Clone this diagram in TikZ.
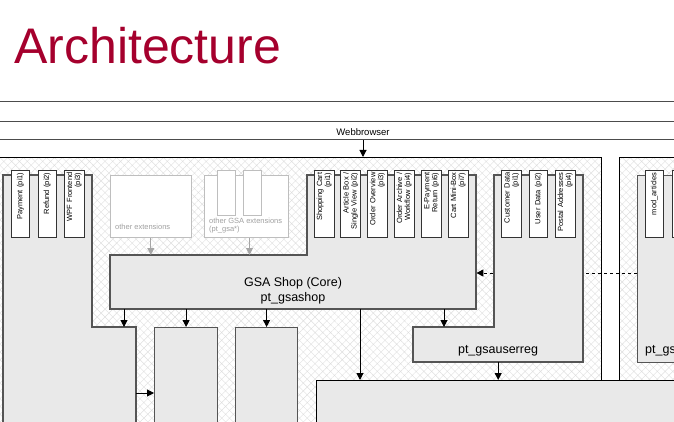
\documentclass[tikz,border=0pt]{standalone}
\usepackage{fontspec}
\setmainfont{Liberation Sans}
\usetikzlibrary{arrows.meta,patterns.meta}
\definecolor{titlered}{RGB}{165,0,45}
\definecolor{compfill}{RGB}{233,233,233}
\definecolor{compline}{RGB}{85,85,85}
\definecolor{extline}{RGB}{190,190,190}
\definecolor{exttext}{RGB}{160,160,160}
\definecolor{hatchgray}{RGB}{222,222,222}
\begin{document}
\begin{tikzpicture}[x=1pt, y=-1pt,
    band/.style={draw=black!70, line width=1pt},
    container/.style={rectangle, draw=black, line width=0.8pt, pattern={Hatch[angle=45,distance=5.5pt,line width=0.4pt]}, pattern color=hatchgray, anchor=north west, inner sep=0pt},
    comp/.style={draw=compline, line width=1.2pt, fill=compfill},
    compbox/.style={rectangle, comp, anchor=north west, inner sep=0pt},
    body/.style={rectangle, anchor=north west, inner sep=0pt},
    comptext/.style={font=\fontsize{12.5}{15}\selectfont, align=center, inner sep=0pt},
    tab/.style={rectangle, draw=black!80, line width=0.9pt, fill=white, rotate=90, minimum width=67pt, minimum height=18pt, text width=62pt, inner sep=2.5pt, align=right, font=\fontsize{7.5}{8}\selectfont},
    ext/.style={rectangle, draw=extline, line width=1pt, fill=white, anchor=north west, inner sep=0pt},
    exttab/.style={ext, minimum width=18pt, minimum height=45pt},
    exttext/.style={text=exttext, font=\fontsize{7.5}{8}\selectfont, align=left, inner sep=0pt},
    conn/.style={-{Triangle[length=7pt,width=7pt]}, line width=1pt},
    extconn/.style={conn, draw=black!35}
]
\useasboundingbox (0,0) rectangle (674,422);
\clip (0,0) rectangle (674,422);

% title and browser band
\node[anchor=base west, inner sep=0pt, text=titlered, font=\fontsize{50}{60}\selectfont] (title) at (14,64) {Architecture};
\draw[band] (-5,102) -- (680,102);
\draw[band] (-5,122) -- (680,122);
\draw[band] (-5,140) -- (680,140);
\node[anchor=base, inner sep=0pt, font=\fontsize{9.5}{11}\selectfont] (web) at (363,136) {Webbrowser};
\coordinate (webin) at (363,140);

% containers
\node[container, minimum width=603pt, minimum height=290pt] (shopcont) at (-2,157) {};
\node[container, minimum width=80pt, minimum height=290pt] (artcont) at (619,157) {};

% invisible bodies for connectors
\node[body, minimum width=366pt, minimum height=54pt] (shop) at (110,255) {};
\node[body, minimum width=170pt, minimum height=35pt] (reg) at (413,327) {};
\coordinate (artout) at (636.7,273);
\draw[conn, dashed] (artout) -- (artout -| shop.east);

% payment component
\draw[comp] (3,175) -- (92,175) -- (92,327) -- (136,327) -- (136,440) -- (3,440) -- cycle;
\coordinate (payin) at (124,327);
\coordinate (payout) at (136,393);
\node[tab] (pay)    at (20.5,203.5) {Payment (pi1)};
\node[tab] (refund) at (47.2,203.5) {Refund (pi2)};
\node[tab] (wpf)    at (74.2,203.5) {WPF Frontend\\(pi3)};

% other extensions
\node[ext, minimum width=80.7pt, minimum height=62pt] (ext1) at (110,175) {};
\node[exttext, anchor=base west] (ext1lbl) at (115,229.5) {other extensions};
\node[ext, minimum width=84pt, minimum height=62pt] (ext2) at (204,175) {};
\node[exttab] (ext2a) at (216.7,170) {};
\node[exttab] (ext2b) at (243.3,170) {};
\node[exttext, anchor=north west] (ext2lbl) at (209,217.5) {other GSA extensions\\(pt\_gsa*)};

% shop core
\draw[comp] (110,255) -- (307,255) -- (307,175) -- (476,175) -- (476,309) -- (110,309) -- cycle;
\node[comptext] (shoplbl) at (293,291) {GSA Shop (Core)\\pt\_gsashop};
\node[tab] (cart)    at (324.2,203.5) {Shopping Cart\\(pi1)};
\node[tab] (artbox)  at (350.8,203.5) {Article Box /\\Single View (pi2)};
\node[tab] (overv)   at (377.5,203.5) {Order Overview\\(pi3)};
\node[tab] (archive) at (404.2,203.5) {Order Archive /\\Workflow (pi4)};
\node[tab] (epay)    at (431.5,203.5) {E-Payment\\Return (pi6)};
\node[tab] (minibox) at (458.2,203.5) {Cart Mini-Box\\(pi7)};

% user registration
\draw[comp] (494,175) -- (583,175) -- (583,362) -- (413,362) -- (413,327) -- (494,327) -- cycle;
\node[comptext, anchor=base] (reglbl) at (498,353.5) {pt\_gsauserreg};
\coordinate (regin) at (444,327);
\node[tab] (custdata) at (511.8,203.5) {Customer Data\\(pi1)};
\node[tab] (userdata) at (538.5,203.5) {User Data (pi2)};
\node[tab] (postal)   at (565.2,203.5) {Postal Addresses\\(pi4)};

% articles component
\node[compbox, minimum width=60pt, minimum height=187pt] (art) at (636.7,175) {};
\node[comptext, anchor=base west] (artlbl) at (645,353.5) {pt\_gs};
\node[tab] (modart) at (654.5,203.5) {mod\_articles};
\node[tab] (modnext) at (681,203.5) {};

% lower boxes
\node[compbox, minimum width=63pt, minimum height=120pt] (boxA) at (154,327) {};
\node[compbox, minimum width=62pt, minimum height=120pt] (boxB) at (235,327) {};
\node[compbox, draw=black, line width=1pt, minimum width=370pt, minimum height=60pt] (core) at (316,380) {};
\coordinate (corein) at (360,380);

% connectors
\draw[conn] (webin) -- (webin |- shopcont.north);
\draw[extconn] (ext1.south) -- (ext1.south |- shop.north);
\draw[extconn] ([xshift=3pt]ext2.south) -- ([xshift=3pt]ext2.south |- shop.north);
\draw[conn] (shop.south -| payin) -- (payin);
\draw[conn] (shop.south -| boxA.north) -- (boxA.north);
\draw[conn] (shop.south -| boxB.north) -- (boxB.north);
\draw[conn] (shop.south -| corein) -- (corein);
\draw[conn] (shop.south -| regin) -- (regin);
\draw[conn] (payout) -- (payout -| boxA.west);
\draw[conn] (reg.south) -- (reg.south |- core.north);
\end{tikzpicture}
\end{document}
